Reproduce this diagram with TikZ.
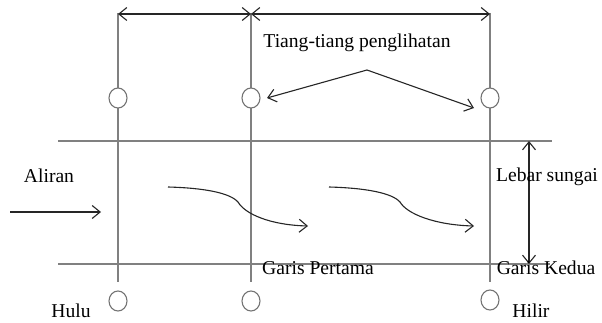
\documentclass[tikz,border=0pt]{standalone}
\usepackage{fontspec}
\setmainfont{Liberation Serif}
\usetikzlibrary{arrows.meta,shapes.geometric}
\begin{document}
\begin{tikzpicture}[x=1pt,y=-1pt,
  gridline/.style={draw=black!50, line width=1.1pt},
  post/.style={draw=black!55, fill=white, ellipse, minimum width=18pt, minimum height=20pt, inner sep=0pt, line width=1.1pt},
  arr/.style={draw=black!85, line width=1.1pt, -{Straight Barb[length=8pt,width=13pt]}},
  dim/.style={draw=black!85, line width=1.1pt, {Straight Barb[length=8pt,width=13pt]}-{Straight Barb[length=8pt,width=13pt]}},
  lbl/.style={font=\fontsize{19.6}{23}\selectfont, inner sep=0pt, text=black}]
\useasboundingbox (0,0) rectangle (602,323);
% vertical lines
\coordinate (t1) at (118,13); \coordinate (b1) at (118,282);
\coordinate (t2) at (251,13); \coordinate (b2) at (251,282);
\coordinate (t3) at (490,13); \coordinate (b3) at (490,282);
\draw[gridline] (t1) -- (b1);
\draw[gridline] (t2) -- (b2);
\draw[gridline] (t3) -- (b3);
% horizontal lines
\coordinate (L1) at (58,141); \coordinate (R1) at (552,141);
\coordinate (L2) at (58,264); \coordinate (R2) at (550,264);
\draw[gridline] (L1) -- (R1);
\draw[gridline] (L2) -- (R2);
% posts
\node[post] (u1) at (118,98) {};
\node[post] (u2) at (251,98) {};
\node[post] (u3) at (490,98) {};
\node[post] (l1) at (118,301) {};
\node[post] (l2) at (251,301) {};
\node[post] (l3) at (490,300) {};
% top dimensions
\coordinate (d1) at (118,14); \coordinate (d2) at (251,14); \coordinate (d3) at (490,14);
\draw[dim] (d1) -- (d2);
\draw[dim] (d2) -- (d3);
% label and pointers
\node[lbl] (tiang) at (357,43) {Tiang-tiang penglihatan};
\coordinate (apex) at (367,70);
\coordinate (p3) at (474,108);
\coordinate (p2) at (267,98);
\draw[arr] (apex) -- (p2);
\draw[arr] (apex) -- (p3);
% flow
\node[lbl] (aliran) at (49,176) {Aliran};
\coordinate (f1) at (10,212); \coordinate (f2) at (101,212);
\draw[arr] (f1) -- (f2);
\coordinate (c1s) at (168,187); \coordinate (c1e) at (308,226);
\draw[arr] (c1s) .. controls (205,188) and (230,193) .. (238,202) .. controls (245,214) and (270,225) .. (c1e);
\coordinate (c2s) at (329,187); \coordinate (c2e) at (474,226);
\draw[arr] (c2s) .. controls (366,188) and (392,193) .. (400,202) .. controls (407,214) and (435,225) .. (c2e);
% width
\coordinate (w1) at (529,141); \coordinate (w2) at (529,264);
\draw[dim] (w1) -- (w2);
\node[lbl] (lebar) at (547,177) {Lebar sungai};
\node[lbl] (gp) at (318,268) {Garis Pertama};
\node[lbl] (gk) at (546,268) {Garis Kedua};
\node[lbl] (hulu) at (71,311) {Hulu};
\node[lbl] (hilir) at (531,311) {Hilir};
\end{tikzpicture}
\end{document}
